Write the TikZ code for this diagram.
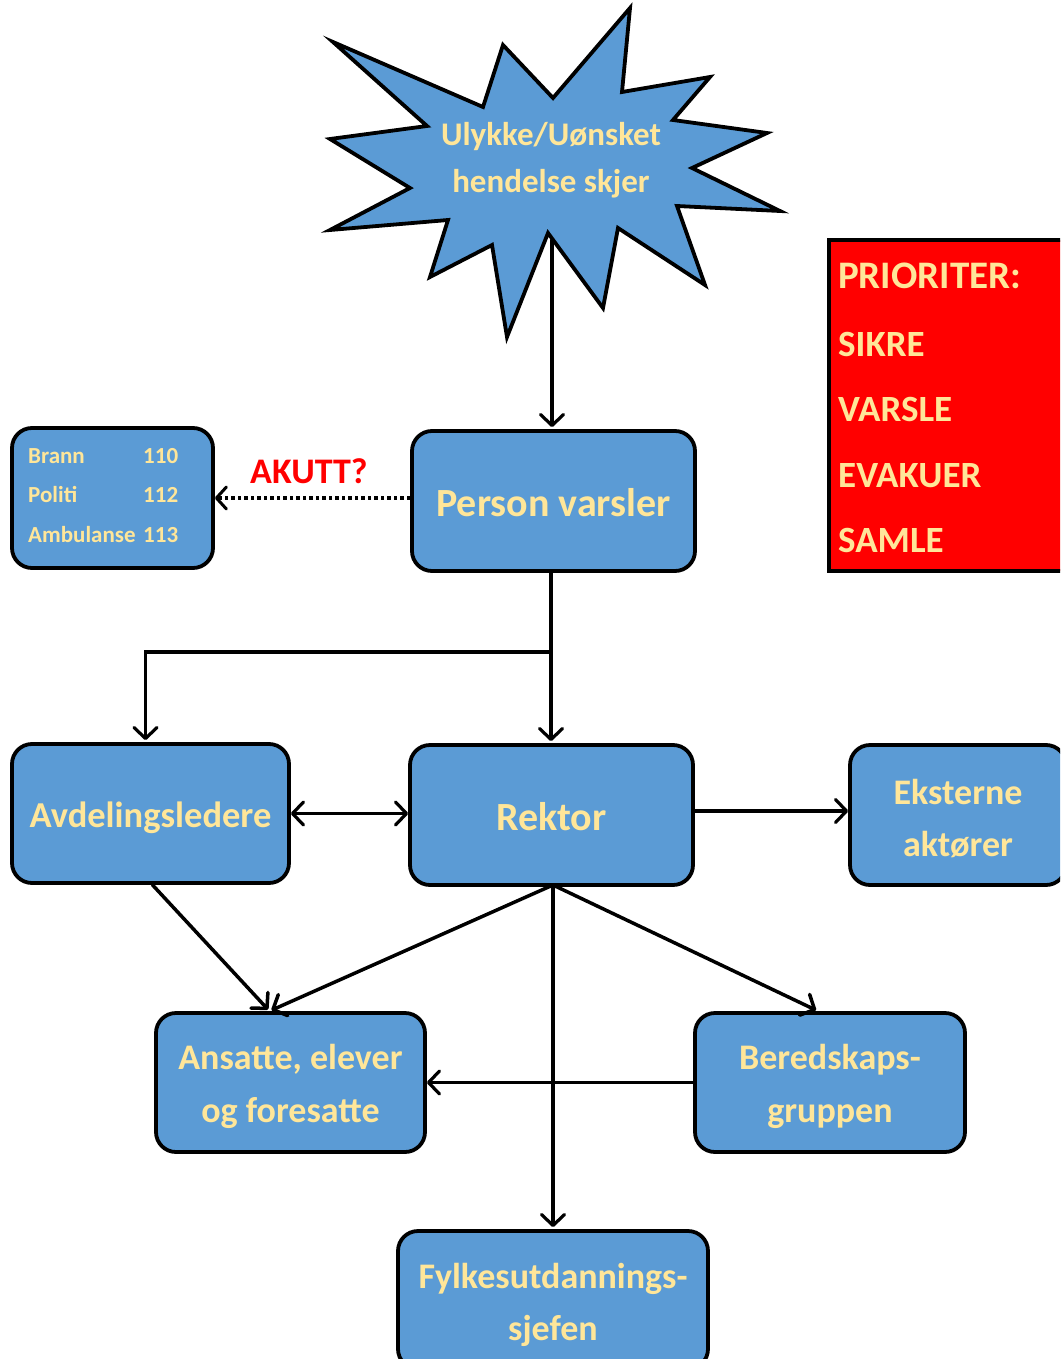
\documentclass[tikz,border=0pt]{standalone}
\usepackage{fontspec}
\setmainfont{Carlito}
\usetikzlibrary{arrows.meta}
\definecolor{boxblue}{RGB}{91,155,213}
\definecolor{txtyel}{RGB}{255,230,153}
\newcommand\fsz[2]{\fontsize{#1}{#2}\selectfont}
\begin{document}
\begin{tikzpicture}[x=1pt,y=-1pt,
  box/.style={draw=black, line width=3.8pt, fill=boxblue, rounded corners=20pt, inner sep=0pt},
  boxtext/.style={text=txtyel, align=center, inner sep=0pt, yshift=-4pt},
  conn/.style={line width=3.2pt, line cap=round, -{Straight Barb[length=11pt,width=23pt,round]}},
  lbl/.style={text=txtyel, inner sep=0pt, anchor=base west}]
\useasboundingbox (0,0) rectangle (1060,1359);
\clip (0,0) rectangle (1060,1359);
% star
\draw[line width=3.8pt, fill=boxblue, line join=miter]
 (333,42) -- (483,107) -- (503,45) -- (553,98) -- (630,8) -- (622,92)
 -- (710,77) -- (673,120) -- (767,133) -- (692,168) -- (780,211)
 -- (677,206) -- (705,285) -- (618,228) -- (603,308) -- (548,233)
 -- (507,337) -- (492,245) -- (430,277) -- (448,220) -- (330,230)
 -- (410,188) -- (330,139) -- (427,126) -- cycle;
\node[text=txtyel, align=center, inner sep=0pt, font=\bfseries\fsz{33}{47}] (startext) at (551,160) {Ulykke/Uønsket\\hendelse skjer};
\coordinate (starbot) at (552,240);

% boxes
\node[box, minimum width=201pt, minimum height=140pt] (emerg) at (112.5,498) {};
\node[box, minimum width=283pt, minimum height=140pt,
  label={[boxtext, yshift=2pt, font=\bfseries\fsz{40}{52}]center:Person varsler}] (person) at (553.5,501) {};
\node[box, minimum width=277pt, minimum height=139pt,
  label={[boxtext, font=\bfseries\fsz{36.5}{52}]center:Avdelingsledere}] (avd) at (150.5,813.5) {};
\node[box, minimum width=283pt, minimum height=140pt,
  label={[boxtext, yshift=2pt, font=\bfseries\fsz{40}{52}]center:Rektor}] (rektor) at (551.5,815) {};
\node[box, minimum width=216pt, minimum height=140pt,
  label={[boxtext, font=\bfseries\fsz{36}{52}]center:Eksterne\\aktører}] (ekst) at (958,815) {};
\node[box, minimum width=269pt, minimum height=139pt,
  label={[boxtext, font=\bfseries\fsz{36}{53}]center:Ansatte, elever\\og foresatte}] (ansatte) at (290.5,1082.5) {};
\node[box, minimum width=270pt, minimum height=139pt,
  label={[boxtext, font=\bfseries\fsz{36}{53}]center:Beredskaps-\\gruppen}] (bered) at (830,1082.5) {};
\node[box, minimum width=310pt, minimum height=138pt,
  label={[boxtext, yshift=-1pt, font=\bfseries\fsz{36}{52}]center:Fylkesutdannings-\\sjefen}] (fylkes) at (553,1300) {};

% emergency numbers
\begin{scope}[font=\bfseries\fsz{23}{28}]
\node[lbl] (brann) at (28,463) {Brann};
\node[lbl] (n110) at (143,463) {110};
\node[lbl] (politi) at (28,502) {Politi};
\node[lbl] (n112) at (143,502) {112};
\node[lbl] (amb) at (28,542) {Ambulanse};
\node[lbl] (n113) at (143,542) {113};
\end{scope}

% priority box
\node[draw=black, line width=4pt, fill=red, minimum width=237pt, minimum height=331pt, inner sep=0pt] (prior) at (947.5,405.5) {};
\node[lbl, font=\bfseries\fsz{39}{45}] (p0) at (838,288) {PRIORITER:};
\node[lbl, font=\bfseries\fsz{37}{45}] (p1) at (838,356) {SIKRE};
\node[lbl, font=\bfseries\fsz{37}{45}] (p2) at (838,421) {VARSLE};
\node[lbl, font=\bfseries\fsz{37}{45}] (p3) at (838,487) {EVAKUER};
\node[lbl, font=\bfseries\fsz{37}{45}] (p4) at (838,552) {SAMLE};

% AKUTT
\node[text=red, inner sep=0pt, anchor=base west, font=\bfseries\fsz{36}{40}] (akutt) at (250,483) {AKUTT?};

% connectors
\draw[conn, shorten >=2pt] (starbot) -- (starbot |- person.north);
\draw[line width=4pt, dash pattern=on 3.5pt off 3pt, -{Straight Barb[length=10pt,width=22pt,round,line width=3pt]}]
  ([yshift=3pt]person.west) -- ([yshift=3pt]person.west -| emerg.east);
\coordinate (junc) at (551,652);
\draw[line width=3.2pt] (junc |- person.south) -- (junc);
\draw[conn, shorten >=2pt] (junc) -- (junc |- rektor.north);
\draw[conn, shorten >=2pt] (junc) -| ([xshift=-5pt]avd.north);
\draw[line width=3.2pt, {Straight Barb[length=11pt,width=23pt,round]}-{Straight Barb[length=11pt,width=23pt,round]}]
  (avd.east) -- (avd.east -| rektor.west);
\draw[conn] ([yshift=4pt]rektor.east) -- ([yshift=4pt]rektor.east -| ekst.west);
\coordinate (rs) at (553,885);
\coordinate (ansN) at ([xshift=-21pt]ansatte.north);
\draw[conn, line width=3.5pt, shorten >=2pt] ([xshift=2pt]avd.south) -- (ansN);
\draw[conn, line width=3.5pt, shorten >=2pt] (rs) -- (ansN);
\draw[conn, line width=3.5pt, shorten >=2pt] (rs) -- ([xshift=-12pt]bered.north);
\draw[conn, shorten >=2pt] (rs) -- (rs |- fylkes.north);
\draw[conn] (bered.west) -- (ansatte.east);
\end{tikzpicture}
\end{document}
